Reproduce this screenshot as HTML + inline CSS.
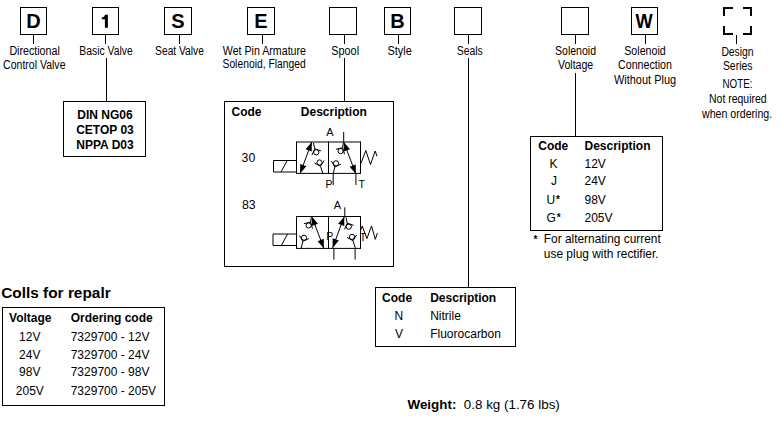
<!DOCTYPE html>
<html><head><meta charset="utf-8"><style>
html,body{margin:0;padding:0;background:#fff;width:779px;height:428px;overflow:hidden}
svg{display:block}
text{font-family:"Liberation Sans", sans-serif;fill:#000}
</style></head><body>
<svg width="779" height="428" viewBox="0 0 779 428">
<rect width="779" height="428" fill="#fff"/>
<rect x="20.5" y="7.5" width="26" height="27" fill="none" stroke="#000" stroke-width="1"/>
<text x="33.5" y="27.8" font-size="20" font-weight="700" text-anchor="middle" >D</text>
<rect x="92.5" y="7.5" width="26" height="27" fill="none" stroke="#000" stroke-width="1"/>
<path d="M104.9 14.8 H107.9 V27.7 H104.9 V19.2 H101.8 V17.5 C103.6 17.4 104.6 16.6 104.9 14.8 Z" fill="#000"/>
<rect x="164.5" y="7.5" width="27" height="27" fill="none" stroke="#000" stroke-width="1"/>
<text x="178.0" y="27.8" font-size="20" font-weight="700" text-anchor="middle" >S</text>
<rect x="247.5" y="7.5" width="27" height="27" fill="none" stroke="#000" stroke-width="1"/>
<text x="261.0" y="27.8" font-size="20" font-weight="700" text-anchor="middle" >E</text>
<rect x="329.5" y="7.5" width="27" height="27" fill="none" stroke="#000" stroke-width="1"/>
<rect x="384.5" y="7.5" width="26" height="27" fill="none" stroke="#000" stroke-width="1"/>
<text x="397.5" y="27.8" font-size="20" font-weight="700" text-anchor="middle" >B</text>
<rect x="454.5" y="7.5" width="27" height="27" fill="none" stroke="#000" stroke-width="1"/>
<rect x="561.5" y="7.5" width="27" height="27" fill="none" stroke="#000" stroke-width="1"/>
<rect x="631.5" y="7.5" width="26" height="27" fill="none" stroke="#000" stroke-width="1"/>
<text x="644.2" y="27.8" font-size="20" font-weight="700" text-anchor="middle" textLength="17.2" lengthAdjust="spacingAndGlyphs">W</text>
<path d="M724 16 V8 H733 M743 8 H751 V16 M724 26 V34 H733 M743 34 H751 V26" fill="none" stroke="#000" stroke-width="2"/>
<line x1="33.5" y1="35" x2="33.5" y2="44" stroke="#000" stroke-width="1"/>
<line x1="105.5" y1="35" x2="105.5" y2="44" stroke="#000" stroke-width="1"/>
<line x1="179.5" y1="35" x2="179.5" y2="44" stroke="#000" stroke-width="1"/>
<line x1="262.5" y1="35" x2="262.5" y2="44" stroke="#000" stroke-width="1"/>
<line x1="344.5" y1="35" x2="344.5" y2="44" stroke="#000" stroke-width="1"/>
<line x1="398.5" y1="35" x2="398.5" y2="44" stroke="#000" stroke-width="1"/>
<line x1="468.5" y1="35" x2="468.5" y2="44" stroke="#000" stroke-width="1"/>
<line x1="575.5" y1="35" x2="575.5" y2="44" stroke="#000" stroke-width="1"/>
<line x1="645.5" y1="35" x2="645.5" y2="44" stroke="#000" stroke-width="1"/>
<line x1="736.5" y1="35" x2="736.5" y2="44" stroke="#000" stroke-width="1"/>
<line x1="106.5" y1="58" x2="106.5" y2="101" stroke="#000" stroke-width="1"/>
<line x1="344.5" y1="58" x2="344.5" y2="101" stroke="#000" stroke-width="1"/>
<line x1="468.5" y1="58" x2="468.5" y2="287" stroke="#000" stroke-width="1"/>
<line x1="575.5" y1="73" x2="575.5" y2="136" stroke="#000" stroke-width="1"/>
<text x="34.6" y="54.8" font-size="13.7" text-anchor="middle" textLength="50.4" lengthAdjust="spacingAndGlyphs">Directional</text>
<text x="34.3" y="68.8" font-size="13.7" text-anchor="middle" textLength="62.4" lengthAdjust="spacingAndGlyphs">Control Valve</text>
<text x="106" y="54.6" font-size="13.7" text-anchor="middle" textLength="53.3" lengthAdjust="spacingAndGlyphs">Basic Valve</text>
<text x="179.5" y="54.9" font-size="13.7" text-anchor="middle" textLength="48.8" lengthAdjust="spacingAndGlyphs">Seat Valve</text>
<text x="264.4" y="54.6" font-size="13.7" text-anchor="middle" textLength="83.2" lengthAdjust="spacingAndGlyphs">Wet Pin Armature</text>
<text x="264.1" y="68.1" font-size="13.7" text-anchor="middle" textLength="83.2" lengthAdjust="spacingAndGlyphs">Solenoid, Flanged</text>
<text x="345.2" y="55" font-size="13.7" text-anchor="middle" textLength="27.7" lengthAdjust="spacingAndGlyphs">Spool</text>
<text x="399.7" y="55" font-size="13.7" text-anchor="middle" textLength="24.4" lengthAdjust="spacingAndGlyphs">Style</text>
<text x="469.8" y="54.7" font-size="13.7" text-anchor="middle" textLength="26" lengthAdjust="spacingAndGlyphs">Seals</text>
<text x="575.5" y="54.9" font-size="13.7" text-anchor="middle" textLength="41" lengthAdjust="spacingAndGlyphs">Solenoid</text>
<text x="575.6" y="69.3" font-size="13.7" text-anchor="middle" textLength="35.3" lengthAdjust="spacingAndGlyphs">Voltage</text>
<text x="645" y="54.9" font-size="13.7" text-anchor="middle" textLength="41.5" lengthAdjust="spacingAndGlyphs">Solenoid</text>
<text x="645" y="68.9" font-size="13.7" text-anchor="middle" textLength="53.8" lengthAdjust="spacingAndGlyphs">Connection</text>
<text x="645" y="83.8" font-size="13.7" text-anchor="middle" textLength="62.2" lengthAdjust="spacingAndGlyphs">Without Plug</text>
<text x="737.5" y="55.7" font-size="13.7" text-anchor="middle" textLength="32.2" lengthAdjust="spacingAndGlyphs">Design</text>
<text x="737.7" y="69.7" font-size="13.7" text-anchor="middle" textLength="29.6" lengthAdjust="spacingAndGlyphs">Series</text>
<text x="737.5" y="87.8" font-size="13.7" text-anchor="middle" textLength="30.1" lengthAdjust="spacingAndGlyphs">NOTE:</text>
<text x="737.8" y="102.9" font-size="13.7" text-anchor="middle" textLength="57.6" lengthAdjust="spacingAndGlyphs">Not required</text>
<text x="737.1" y="117.5" font-size="13.7" text-anchor="middle" textLength="70.2" lengthAdjust="spacingAndGlyphs">when ordering.</text>
<rect x="63.5" y="101.5" width="82" height="55" fill="none" stroke="#000" stroke-width="1"/>
<text x="105" y="119" font-size="12" font-weight="700" text-anchor="middle" >DIN NG06</text>
<text x="105" y="133.6" font-size="12" font-weight="700" text-anchor="middle" >CETOP 03</text>
<text x="105" y="148.8" font-size="12" font-weight="700" text-anchor="middle" >NPPA D03</text>
<rect x="224.5" y="101.5" width="169" height="165" fill="none" stroke="#000" stroke-width="1"/>
<text x="231.5" y="115.7" font-size="12" font-weight="700" text-anchor="start" >Code</text>
<text x="300.8" y="115.8" font-size="12" font-weight="700" text-anchor="start" >Description</text>
<text x="241.6" y="161.9" font-size="12.3" font-weight="400" text-anchor="start" >30</text>
<text x="242.0" y="208.9" font-size="12.3" font-weight="400" text-anchor="start" >83</text>
<rect x="530.5" y="136.5" width="132" height="94" fill="none" stroke="#000" stroke-width="1"/>
<text x="538.3" y="149.6" font-size="12" font-weight="700" text-anchor="start" >Code</text>
<text x="584.5" y="149.6" font-size="12" font-weight="700" text-anchor="start" >Description</text>
<text x="549.5" y="167.8" font-size="12" font-weight="400" text-anchor="start" >K</text>
<text x="584.5" y="167.8" font-size="12" font-weight="400" text-anchor="start" >12V</text>
<text x="550.9" y="185.3" font-size="12" font-weight="400" text-anchor="start" >J</text>
<text x="584.5" y="185.3" font-size="12" font-weight="400" text-anchor="start" >24V</text>
<text x="546.4" y="204.2" font-size="12">U<tspan font-size="10" font-weight="700" dx="1.0" dy="-1.5">*</tspan></text>
<text x="584.5" y="204.2" font-size="12" font-weight="400" text-anchor="start" >98V</text>
<text x="546.4" y="222" font-size="12">G<tspan font-size="10" font-weight="700" dx="1.0" dy="-1.5">*</tspan></text>
<text x="584.5" y="222" font-size="12" font-weight="400" text-anchor="start" >205V</text>
<text x="533.5" y="242.5" font-size="10" font-weight="700" text-anchor="start" >*</text>
<text x="543.8" y="243" font-size="11.9" font-weight="400" text-anchor="start" >For alternating current</text>
<text x="543.8" y="258.2" font-size="11.95" font-weight="400" text-anchor="start" >use plug with rectifier.</text>
<rect x="375.5" y="287.5" width="140" height="59" fill="none" stroke="#000" stroke-width="1"/>
<text x="382.1" y="301.8" font-size="12" font-weight="700" text-anchor="start" >Code</text>
<text x="430.2" y="301.8" font-size="12" font-weight="700" text-anchor="start" >Description</text>
<text x="394.6" y="319.8" font-size="12" font-weight="400" text-anchor="start" >N</text>
<text x="430.2" y="319.8" font-size="12" font-weight="400" text-anchor="start" >Nitrile</text>
<text x="394.9" y="338.1" font-size="12" font-weight="400" text-anchor="start" >V</text>
<text x="430.2" y="338.1" font-size="12" font-weight="400" text-anchor="start" >Fluorocarbon</text>
<text x="1.2" y="297.5" font-size="15.4" font-weight="700" text-anchor="start" >Colls for repalr</text>
<rect x="2.5" y="307.5" width="162" height="98" fill="none" stroke="#000" stroke-width="1"/>
<text x="9.1" y="322.3" font-size="12" font-weight="700" text-anchor="start" >Voltage</text>
<text x="70.7" y="322.3" font-size="12" font-weight="700" text-anchor="start" >Ordering code</text>
<text x="29.8" y="341.3" font-size="12" font-weight="400" text-anchor="middle" >12V</text>
<text x="70.7" y="341.3" font-size="12" font-weight="400" text-anchor="start" >7329700 - 12V</text>
<text x="29.8" y="358.7" font-size="12" font-weight="400" text-anchor="middle" >24V</text>
<text x="70.7" y="358.7" font-size="12" font-weight="400" text-anchor="start" >7329700 - 24V</text>
<text x="29.8" y="376.2" font-size="12" font-weight="400" text-anchor="middle" >98V</text>
<text x="70.7" y="376.2" font-size="12" font-weight="400" text-anchor="start" >7329700 - 98V</text>
<text x="29.8" y="394.8" font-size="12" font-weight="400" text-anchor="middle" >205V</text>
<text x="70.7" y="394.8" font-size="12" font-weight="400" text-anchor="start" >7329700 - 205V</text>
<text x="407.5" y="409" font-size="13.4" font-weight="700" text-anchor="start" >Weight:</text>
<text x="463.8" y="409" font-size="13.4" font-weight="400" text-anchor="start" >0.8 kg (1.76 lbs)</text>
<path d="M296.5 142 H360.5 M296.5 173.4 H360.5" stroke="#000" stroke-width="1" fill="none"/>
<path d="M296.5 141.5 V173.9 M328.5 141.5 V173.9 M360.5 141.5 V173.9" stroke="#000" stroke-width="1" fill="none"/>
<path d="M296.5 160.5 H273.5 V172 H296.5 M281.1 171.8 L287.2 160.6" stroke="#000" stroke-width="1" fill="none"/>
<line x1="311.80" y1="142.00" x2="300.10" y2="173.50" stroke="#000" stroke-width="1"/>
<path d="M311.80 142.00 L311.76 151.59 L305.57 149.29 Z" fill="#000"/>
<path d="M300.10 173.50 L300.14 163.91 L306.33 166.21 Z" fill="#000"/>
<circle cx="316.30" cy="152.30" r="2.6" fill="none" stroke="#000" stroke-width="1"/>
<path d="M321.14 150.95 L314.71 148.74 L312.06 155.00 M314.71 148.74 L313.50 143.00" fill="none" stroke="#000" stroke-width="1"/>
<circle cx="319.50" cy="162.50" r="2.6" fill="none" stroke="#000" stroke-width="1"/>
<path d="M314.51 163.07 L320.51 166.27 L324.11 160.50 M320.51 166.27 L322.80 173.50" fill="none" stroke="#000" stroke-width="1"/>
<line x1="343.70" y1="142.00" x2="355.90" y2="174.00" stroke="#000" stroke-width="1"/>
<path d="M343.70 142.00 L349.99 149.23 L343.82 151.59 Z" fill="#000"/>
<path d="M355.90 174.00 L349.61 166.77 L355.78 164.41 Z" fill="#000"/>
<circle cx="340.60" cy="151.10" r="2.6" fill="none" stroke="#000" stroke-width="1"/>
<path d="M344.54 154.23 L342.55 147.72 L335.92 149.25 M342.55 147.72 L343.30 143.00" fill="none" stroke="#000" stroke-width="1"/>
<circle cx="336.00" cy="163.30" r="2.6" fill="none" stroke="#000" stroke-width="1"/>
<path d="M331.50 161.06 L334.79 167.01 L340.96 164.14 M334.79 167.01 L333.20 174.00" fill="none" stroke="#000" stroke-width="1"/>
<line x1="343.7" y1="132" x2="343.7" y2="142" stroke="#000" stroke-width="1"/>
<line x1="333.2" y1="173.4" x2="333.2" y2="185" stroke="#000" stroke-width="1"/>
<line x1="355.9" y1="173.4" x2="355.9" y2="185" stroke="#000" stroke-width="1"/>
<path d="M361 163.3 L365.8 150.5 L370.5 164.5 L375.2 151 L377 156.3" stroke="#000" stroke-width="1" fill="none"/>
<text x="326.3" y="135.9" font-size="11">A</text>
<text x="325.6" y="188.4" font-size="10.5">P</text>
<text x="358.6" y="188.4" font-size="10.5">T</text>
<path d="M296.5 216.5 H360.5 M296.5 248.4 H360.5" stroke="#000" stroke-width="1" fill="none"/>
<path d="M296.5 216 V248.9 M328.5 216 V248.9 M360.5 216 V248.9" stroke="#000" stroke-width="1" fill="none"/>
<path d="M296.5 234 H273 V245.5 H296.5 M281.3 245.5 L287.6 234" stroke="#000" stroke-width="1" fill="none"/>
<line x1="311.70" y1="216.40" x2="323.90" y2="248.40" stroke="#000" stroke-width="1"/>
<path d="M311.70 216.40 L317.99 223.63 L311.82 225.99 Z" fill="#000"/>
<path d="M323.90 248.40 L317.61 241.17 L323.78 238.81 Z" fill="#000"/>
<circle cx="308.60" cy="225.50" r="2.6" fill="none" stroke="#000" stroke-width="1"/>
<path d="M312.54 228.63 L310.55 222.12 L303.92 223.65 M310.55 222.12 L311.30 217.40" fill="none" stroke="#000" stroke-width="1"/>
<circle cx="304.00" cy="237.70" r="2.6" fill="none" stroke="#000" stroke-width="1"/>
<path d="M299.50 235.46 L302.79 241.41 L308.96 238.54 M302.79 241.41 L301.20 248.40" fill="none" stroke="#000" stroke-width="1"/>
<line x1="344.30" y1="216.40" x2="332.60" y2="247.90" stroke="#000" stroke-width="1"/>
<path d="M344.30 216.40 L344.26 225.99 L338.07 223.69 Z" fill="#000"/>
<path d="M332.60 247.90 L332.64 238.31 L338.83 240.61 Z" fill="#000"/>
<circle cx="348.80" cy="226.70" r="2.6" fill="none" stroke="#000" stroke-width="1"/>
<path d="M353.64 225.35 L347.21 223.14 L344.56 229.40 M347.21 223.14 L346.00 217.40" fill="none" stroke="#000" stroke-width="1"/>
<circle cx="352.00" cy="236.90" r="2.6" fill="none" stroke="#000" stroke-width="1"/>
<path d="M347.01 237.47 L353.01 240.67 L356.61 234.90 M353.01 240.67 L355.30 247.90" fill="none" stroke="#000" stroke-width="1"/>
<line x1="344.8" y1="207.3" x2="344.8" y2="216.5" stroke="#000" stroke-width="1"/>
<line x1="333.9" y1="248.4" x2="333.9" y2="259.6" stroke="#000" stroke-width="1"/>
<line x1="355.1" y1="248.4" x2="355.1" y2="259.6" stroke="#000" stroke-width="1"/>
<path d="M361 229.8 L362.2 226 L366.9 238.6 L371.5 226 L375.3 239.3 L377.4 233" stroke="#000" stroke-width="1" fill="none"/>
<text x="333.7" y="209.4" font-size="11">A</text>
<text x="326.3" y="240" font-size="10.5">P</text>
<text x="359.8" y="240.7" font-size="10.5">T</text>
</svg>
</body></html>
